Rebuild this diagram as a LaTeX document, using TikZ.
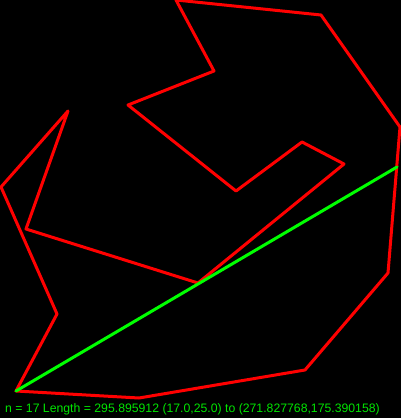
\documentclass[tikz,border=0pt]{standalone}
\usepackage{fontspec}
\setmainfont{Liberation Sans}
\begin{document}
\begin{tikzpicture}[x=1pt,y=-1pt,
  poly/.style={draw={rgb,255:red,255;green,0;blue,0},line width=3pt,line join=round},
  seg/.style={draw={rgb,255:red,0;green,255;blue,0},line width=3pt,line cap=round},
  caption/.style={text={rgb,255:red,0;green,230;blue,0},font=\fontsize{12.25}{14}\selectfont,inner sep=0pt,anchor=base west}]
\fill[black] (0,0) rectangle (401,418);
\useasboundingbox (0,0) rectangle (401,418);
\begin{scope}
\clip (0,0) rectangle (401,418);
\coordinate (p1) at (16,391);
\coordinate (p2) at (139,398);
\coordinate (p3) at (305,370);
\coordinate (p4) at (388,273);
\coordinate (p5) at (400,127);
\coordinate (p6) at (321,15);
\coordinate (p7) at (176,0);
\coordinate (p8) at (214,71);
\coordinate (p9) at (128,105);
\coordinate (p10) at (236,191);
\coordinate (p11) at (302,142);
\coordinate (p12) at (344,164);
\coordinate (p13) at (198,283);
\coordinate (p14) at (26,229);
\coordinate (p15) at (68,111);
\coordinate (p16) at (1,187);
\coordinate (p17) at (57,314);
\coordinate (q) at (397,167);
\draw[poly] (p1)--(p2)--(p3)--(p4)--(p5)--(p6)--(p7)--(p8)--(p9)--(p10)--(p11)--(p12)--(p13)--(p14)--(p15)--(p16)--(p17)--cycle;
\draw[seg] (p1)--(q);
\end{scope}
\node[caption] (cap) at (5,412) {n = 17 Length = 295.895912 (17.0,25.0) to (271.827768,175.390158)};
\end{tikzpicture}
\end{document}
